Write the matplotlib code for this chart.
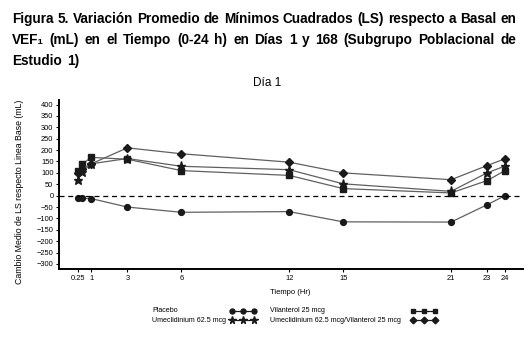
import matplotlib
matplotlib.use('Agg')
import matplotlib.pyplot as plt
from matplotlib.lines import Line2D

#------------------------------------------------------------------------------
#                               DATA
hours = [0.25, 0.5, 1, 3, 6, 12, 15, 21, 23, 24]
placebo = [-12, -12, -13, -50, -73, -70, -115, -116, -40, 0]
umec = [68, 105, 140, 163, 129, 114, 52, 19, 100, 130]
vi = [108, 140, 168, 160, 110, 89, 31, 12, 66, 110]
umec_vi = [100, 117, 140, 210, 184, 147, 100, 70, 132, 162]

series_labels = ['Placebo', 'Umeclidinium 62.5 mcg', 'Vilanterol 25 mcg',
                 'Umeclidinium 62.5 mcg/Vilanterol 25 mcg']
xticks = [0.25, 1, 3, 6, 12, 15, 21, 23, 24]
xtick_labels = ['0.25', '1', '3', '6', '12', '15', '21', '23', '24']
yticks = list(range(-300, 401, 50))

header_lines = [
    'Figura 5. Variación Promedio de Mínimos Cuadrados (LS) respecto a Basal en',
    'VEF\u2081 (mL) en el Tiempo (0-24 h) en Días 1 y 168 (Subgrupo Poblacional de',
    'Estudio 1)',
]

#------------------------------------------------------------------------------
#                               FIGURE
W, H = 529, 341
plt.rcParams['font.family'] = ['Liberation Sans', 'DejaVu Sans']
fig = plt.figure(figsize=(W / 100, H / 100), dpi=100)
fig.patch.set_facecolor('white')

ax = fig.add_axes([59 / W, 1 - 269 / H, (523 - 59) / W, (269 - 100) / H])

markers = ['o', '*', 's', 'D']
msizes = [4.2, 6.5, 3.8, 4.0]
line_kw = dict(color='#606060', lw=0.9, mfc='#1a1a1a', mec='#1a1a1a')
for vals, m, ms in zip([placebo, umec, vi, umec_vi], markers, msizes):
    ax.plot(hours, vals, marker=m, ms=ms, **line_kw)

ax.axhline(0, color='black', lw=0.9, ls=(0, (4, 3)))

ax.set_xlim(-0.8, 25)
ax.set_ylim(-322, 420)
ax.set_xticks(xticks)
ax.set_xticklabels(xtick_labels)
ax.set_yticks(yticks)
ax.tick_params(labelsize=5.4, length=2.5, width=0.8, pad=1.5)
for s in ['top', 'right']:
    ax.spines[s].set_visible(False)
for s in ['left', 'bottom']:
    ax.spines[s].set_linewidth(1.4)

# axis labels and panel title
fig.text(290 / W, 1 - 293 / H, 'Tiempo (Hr)', ha='center', va='center', fontsize=5.5)
fig.text(20 / W, 1 - 192 / H, 'Cambio Medio de LS respecto Linea Base (mL)',
         rotation=90, ha='center', va='center', fontsize=6.3)
fig.text(267 / W, 1 - 83 / H, 'Día 1', ha='center', va='center', fontsize=8.5)

# legend: labels left-aligned, three-marker samples to the right
leg_pos = [(152, 311, 231.5), (152, 320, 231.5), (270, 311, 413), (270, 320, 413)]
for lab, (tx, ty, sx), m, ms in zip(series_labels, leg_pos, markers, msizes):
    fig.text(tx / W, 1 - ty / H, lab, fontsize=5.1, ha='left', va='center')
    xs = [(sx + k * 11) / W for k in range(3)]
    fig.add_artist(Line2D(xs, [1 - ty / H] * 3, transform=fig.transFigure,
                          color='#1a1a1a', lw=0.9, marker=m, ms=ms * 0.85,
                          mfc='#1a1a1a', mec='#1a1a1a'))

# justified bold header
fig.canvas.draw()
r = fig.canvas.get_renderer()
hdr_kw = dict(fontsize=9.8, fontweight='bold', va='center', ha='left')
x0, x1 = 12, 516
for i, line in enumerate(header_lines):
    y = 1 - (19 + 21 * i) / H
    words = line.split(' ')
    texts = [fig.text(0, y, w, **hdr_kw) for w in words]
    widths = [t.get_window_extent(r).width for t in texts]
    if i < len(header_lines) - 1:
        gap = ((x1 - x0) - sum(widths)) / (len(words) - 1)
    else:
        gap = 5
    x = x0
    for t, w in zip(texts, widths):
        t.set_x(x / W)
        x += w + gap

fig.savefig('out.png', dpi=100)
